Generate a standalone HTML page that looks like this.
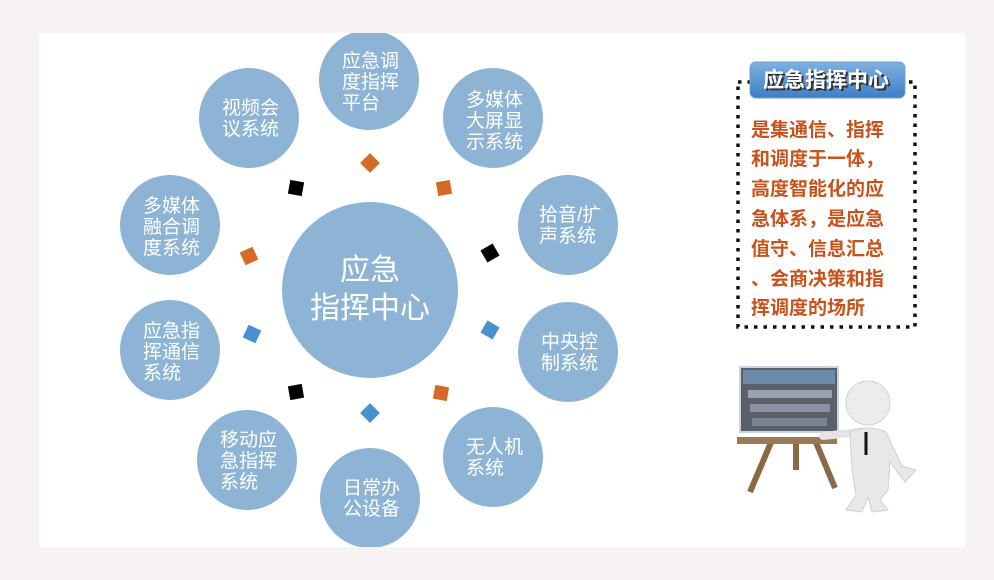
<!DOCTYPE html>
<html><head><meta charset="utf-8"><style>
html,body{margin:0;padding:0;background:#f7f3f3;}
svg{display:block;}
.c{fill:#8db3d5;}
.t{font-family:"Liberation Sans","Noto Sans CJK SC",sans-serif;fill:#fff;font-size:19px;}
.o{font-family:"Liberation Sans","Noto Sans CJK SC",sans-serif;fill:#c8521c;font-size:19px;font-weight:bold;}
</style></head><body>
<svg width="994" height="580" viewBox="0 0 994 580" xmlns="http://www.w3.org/2000/svg">
<defs>
<clipPath id="cp"><rect x="39" y="33" width="926" height="514"/></clipPath>
<linearGradient id="bg" x1="0" y1="0" x2="0" y2="1"><stop offset="0" stop-color="#7fb0e0"/><stop offset="1" stop-color="#3f7fc4"/></linearGradient>
</defs>
<rect x="0" y="0" width="994" height="580" fill="#f7f3f3"/>
<rect x="39" y="33" width="926" height="514" fill="#fff"/>
<g clip-path="url(#cp)">
<circle class="c" cx="370" cy="290" r="88"/>
<circle class="c" cx="369" cy="80" r="50"/>
<circle class="c" cx="493" cy="118" r="50"/>
<circle class="c" cx="568" cy="225" r="50"/>
<circle class="c" cx="568" cy="352" r="50"/>
<circle class="c" cx="493" cy="457" r="50"/>
<circle class="c" cx="370" cy="498" r="50"/>
<circle class="c" cx="247" cy="460" r="50"/>
<circle class="c" cx="170" cy="350" r="50"/>
<circle class="c" cx="170" cy="225" r="50"/>
<circle class="c" cx="249" cy="118" r="50"/>
</g>
<text class="t" style="font-size:30px" x="370" y="280" text-anchor="middle">应急</text>
<text class="t" style="font-size:30px" x="370" y="318" text-anchor="middle">指挥中心</text>
<g class="t">
<text x="342" y="67">应急调</text><text x="342" y="88">度指挥</text><text x="342" y="109">平台</text>
<text x="466" y="106">多媒体</text><text x="466" y="127">大屏显</text><text x="466" y="148">示系统</text>
<text x="539" y="221">拾音/扩</text><text x="539" y="242">声系统</text>
<text x="541" y="348">中央控</text><text x="541" y="369">制系统</text>
<text x="466" y="453">无人机</text><text x="466" y="474">系统</text>
<text x="343" y="494">日常办</text><text x="343" y="515">公设备</text>
<text x="220" y="446">移动应</text><text x="220" y="467">急指挥</text><text x="220" y="488">系统</text>
<text x="143" y="337">应急指</text><text x="143" y="358">挥通信</text><text x="143" y="379">系统</text>
<text x="143" y="212">多媒体</text><text x="143" y="233">融合调</text><text x="143" y="254">度系统</text>
<text x="222" y="114">视频会</text><text x="222" y="135">议系统</text>
</g>
<g>
<rect x="-7" y="-7" width="14" height="14" fill="#d46a26" transform="translate(370,163) rotate(45)"/>
<rect x="-7" y="-7" width="14" height="14" fill="#d46a26" transform="translate(444,188) rotate(-10)"/>
<rect x="-7" y="-7" width="14" height="14" fill="#000" transform="translate(490,253) rotate(-30)"/>
<rect x="-7" y="-7" width="14" height="14" fill="#4a8fd0" transform="translate(490,330) rotate(30)"/>
<rect x="-7" y="-7" width="14" height="14" fill="#d46a26" transform="translate(441,393) rotate(10)"/>
<rect x="-7" y="-7" width="14" height="14" fill="#4a8fd0" transform="translate(370,413) rotate(45)"/>
<rect x="-7" y="-7" width="14" height="14" fill="#000" transform="translate(296,392) rotate(-10)"/>
<rect x="-7" y="-7" width="14" height="14" fill="#4a8fd0" transform="translate(252,334) rotate(25)"/>
<rect x="-7" y="-7" width="14" height="14" fill="#d46a26" transform="translate(249,256) rotate(-25)"/>
<rect x="-7" y="-7" width="14" height="14" fill="#000" transform="translate(296,188) rotate(10)"/>
</g>
<!-- right panel -->
<rect x="738" y="82" width="177" height="245" fill="none" stroke="#111" stroke-width="3.5" stroke-dasharray="3.5 6"/>
<rect x="750" y="62" width="155" height="36" rx="6" fill="url(#bg)" stroke="#6fa0d0"/>
<text x="828" y="89" text-anchor="middle" style="font-family:'Liberation Sans','Noto Sans CJK SC',sans-serif;font-size:21px;font-weight:bold;fill:#333">应急指挥中心</text>
<text x="826" y="87" text-anchor="middle" style="font-family:'Liberation Sans','Noto Sans CJK SC',sans-serif;font-size:21px;font-weight:bold;fill:#fff">应急指挥中心</text>
<g class="o">
<text x="751" y="136">是集通信、指挥</text>
<text x="751" y="165">和调度于一体，</text>
<text x="751" y="195">高度智能化的应</text>
<text x="751" y="225">急体系，是应急</text>
<text x="751" y="255">值守、信息汇总</text>
<text x="751" y="285">、会商决策和指</text>
<text x="751" y="314">挥调度的场所</text>
</g>
<!-- presenter illustration -->
<g>
<line x1="772" y1="440" x2="750" y2="492" stroke="#8a6a45" stroke-width="6"/>
<line x1="796" y1="440" x2="796" y2="470" stroke="#8a6a45" stroke-width="6"/>
<line x1="815" y1="440" x2="835" y2="488" stroke="#8a6a45" stroke-width="6"/>
<rect x="737" y="437" width="100" height="7" fill="#9a7a55"/>
<rect x="740" y="367" width="98" height="65" fill="#5a5f68" stroke="#c9d4e0" stroke-width="2"/>
<rect x="743" y="370" width="92" height="14" fill="#6d8aa8"/>
<rect x="748" y="390" width="84" height="8" fill="#9aa2b0"/>
<rect x="750" y="404" width="80" height="8" fill="#8a92a2"/>
<rect x="752" y="418" width="75" height="8" fill="#7b8292"/>
<path d="M823 436 L860 432" stroke="#e4e4e4" stroke-width="8" stroke-linecap="round"/>
<path d="M850 432 Q868 424 886 432 L902 466 L916 470 L905 482 L890 462 L888 490 L880 500 L888 510 L872 512 L868 497 L862 512 L846 510 L856 495 L852 470 Z" fill="#e8e8e8" stroke="#cfcfcf"/>
<line x1="866" y1="432" x2="866" y2="455" stroke="#111" stroke-width="3"/>
<circle cx="868" cy="403" r="22" fill="#ececec" stroke="#d2d2d2"/>
</g>
</svg>
</body></html>
